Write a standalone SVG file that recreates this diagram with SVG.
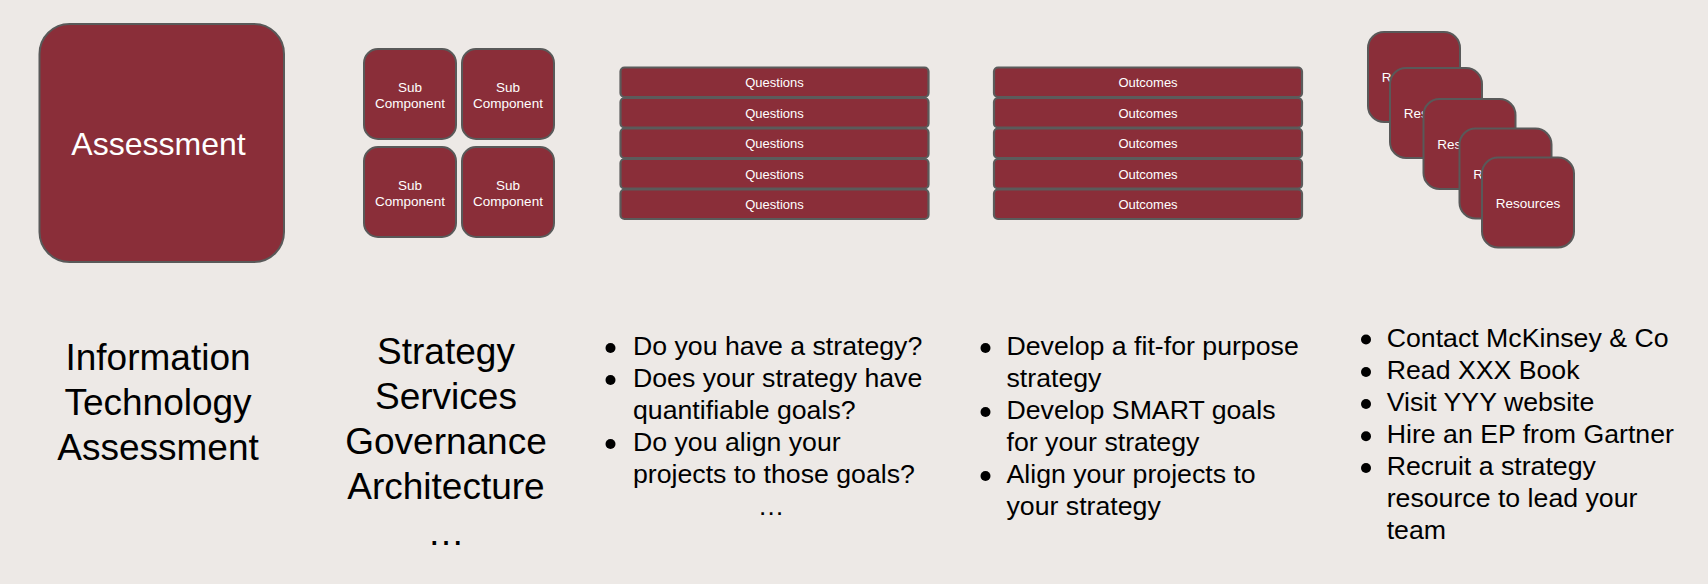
<svg xmlns="http://www.w3.org/2000/svg" width="1708" height="584" viewBox="0 0 1708 584">
<style>
.box{fill:#8a2e39;stroke:#595959;stroke-width:2}
.bar{fill:#8a2e39;stroke:#5b5b5b;stroke-width:2.2}
.wt{fill:#ffffff;font-family:"Liberation Sans",Arial,sans-serif;text-anchor:middle}
.bt{fill:#000000;font-family:"Liberation Sans",Arial,sans-serif}
.big{font-size:37px;text-anchor:middle}
.li{font-size:26.7px}
.dot{fill:#000000}
</style>
<rect x="0" y="0" width="1708" height="584" fill="#ede9e6"/>

<g id="assessment">
<rect class="box" x="39.5" y="24" width="244.5" height="238" rx="30" ry="30"/>
<text class="wt" x="158.5" y="155" font-size="32">Assessment</text>
</g>

<g id="sub-components">
<g id="sub1"><rect class="box" x="364" y="49" width="92" height="90" rx="14"/><text class="wt" font-size="13.5"><tspan x="410" y="92">Sub</tspan><tspan x="410" y="108">Component</tspan></text></g>
<g id="sub2"><rect class="box" x="462" y="49" width="92" height="90" rx="14"/><text class="wt" font-size="13.5"><tspan x="508" y="92">Sub</tspan><tspan x="508" y="108">Component</tspan></text></g>
<g id="sub3"><rect class="box" x="364" y="147" width="92" height="90" rx="14"/><text class="wt" font-size="13.5"><tspan x="410" y="190">Sub</tspan><tspan x="410" y="206">Component</tspan></text></g>
<g id="sub4"><rect class="box" x="462" y="147" width="92" height="90" rx="14"/><text class="wt" font-size="13.5"><tspan x="508" y="190">Sub</tspan><tspan x="508" y="206">Component</tspan></text></g>
</g>

<g id="questions">
<g id="q1"><rect class="bar" x="620.5" y="67.5" width="308" height="29.5" rx="4"/><text class="wt" x="774.5" y="87" font-size="13">Questions</text></g>
<g id="q2"><rect class="bar" x="620.5" y="98" width="308" height="29.5" rx="4"/><text class="wt" x="774.5" y="117.5" font-size="13">Questions</text></g>
<g id="q3"><rect class="bar" x="620.5" y="128.5" width="308" height="29.5" rx="4"/><text class="wt" x="774.5" y="148" font-size="13">Questions</text></g>
<g id="q4"><rect class="bar" x="620.5" y="159" width="308" height="29.5" rx="4"/><text class="wt" x="774.5" y="178.5" font-size="13">Questions</text></g>
<g id="q5"><rect class="bar" x="620.5" y="189.5" width="308" height="29.5" rx="4"/><text class="wt" x="774.5" y="209" font-size="13">Questions</text></g>
</g>

<g id="outcomes">
<g id="o1"><rect class="bar" x="994" y="67.5" width="308" height="29.5" rx="4"/><text class="wt" x="1148" y="87" font-size="13">Outcomes</text></g>
<g id="o2"><rect class="bar" x="994" y="98" width="308" height="29.5" rx="4"/><text class="wt" x="1148" y="117.5" font-size="13">Outcomes</text></g>
<g id="o3"><rect class="bar" x="994" y="128.5" width="308" height="29.5" rx="4"/><text class="wt" x="1148" y="148" font-size="13">Outcomes</text></g>
<g id="o4"><rect class="bar" x="994" y="159" width="308" height="29.5" rx="4"/><text class="wt" x="1148" y="178.5" font-size="13">Outcomes</text></g>
<g id="o5"><rect class="bar" x="994" y="189.5" width="308" height="29.5" rx="4"/><text class="wt" x="1148" y="209" font-size="13">Outcomes</text></g>
</g>

<g id="resources">
<g id="r1"><rect class="box" x="1368" y="32" width="92" height="90" rx="16"/><text class="wt" x="1414" y="82" font-size="13.5">Resources</text></g>
<g id="r2"><rect class="box" x="1390" y="68" width="92" height="90" rx="16"/><text class="wt" x="1436" y="118" font-size="13.5">Resources</text></g>
<g id="r3"><rect class="box" x="1423.5" y="99" width="92" height="90" rx="16"/><text class="wt" x="1469.5" y="149" font-size="13.5">Resources</text></g>
<g id="r4"><rect class="box" x="1459.5" y="128.5" width="92" height="90" rx="16"/><text class="wt" x="1505.5" y="178.5" font-size="13.5">Resources</text></g>
<g id="r5"><rect class="box" x="1482" y="157.5" width="92" height="90" rx="16"/><text class="wt" x="1528" y="207.5" font-size="13.5">Resources</text></g>
</g>

<g id="connectors"></g>

<g id="label-it">
<text class="bt big"><tspan x="158" y="370">Information</tspan><tspan x="158" y="415">Technology</tspan><tspan x="158" y="459.5">Assessment</tspan></text>
</g>

<g id="label-areas">
<text class="bt big"><tspan x="446" y="364">Strategy</tspan><tspan x="446" y="409">Services</tspan><tspan x="446" y="454">Governance</tspan><tspan x="446" y="499">Architecture</tspan><tspan x="446" y="545">…</tspan></text>
</g>

<g id="list-questions">
<circle class="dot" cx="610.5" cy="348" r="5"/>
<circle class="dot" cx="610.5" cy="380" r="5"/>
<circle class="dot" cx="610.5" cy="444" r="5"/>
<text class="bt li"><tspan x="633" y="355">Do you have a strategy?</tspan><tspan x="633" y="387">Does your strategy have</tspan><tspan x="633" y="419">quantifiable goals?</tspan><tspan x="633" y="451">Do you align your</tspan><tspan x="633" y="483">projects to those goals?</tspan></text>
<text class="bt li" x="771" y="515" text-anchor="middle">…</text>
</g>

<g id="list-outcomes">
<circle class="dot" cx="985.5" cy="348" r="5"/>
<circle class="dot" cx="985.5" cy="412" r="5"/>
<circle class="dot" cx="985.5" cy="476" r="5"/>
<text class="bt li"><tspan x="1006.5" y="355">Develop a fit-for purpose</tspan><tspan x="1006.5" y="387">strategy</tspan><tspan x="1006.5" y="419">Develop SMART goals</tspan><tspan x="1006.5" y="451">for your strategy</tspan><tspan x="1006.5" y="483">Align your projects to</tspan><tspan x="1006.5" y="515">your strategy</tspan></text>
</g>

<g id="list-resources">
<circle class="dot" cx="1366" cy="339.5" r="5"/>
<circle class="dot" cx="1366" cy="372" r="5"/>
<circle class="dot" cx="1366" cy="404" r="5"/>
<circle class="dot" cx="1366" cy="436.3" r="5"/>
<circle class="dot" cx="1366" cy="468" r="5"/>
<text class="bt li"><tspan x="1386.7" y="346.7">Contact McKinsey &amp; Co</tspan><tspan x="1386.7" y="379">Read XXX Book</tspan><tspan x="1386.7" y="411">Visit YYY website</tspan><tspan x="1386.7" y="443.3">Hire an EP from Gartner</tspan><tspan x="1386.7" y="475">Recruit a strategy</tspan><tspan x="1386.7" y="507.3">resource to lead your</tspan><tspan x="1386.7" y="539.3">team</tspan></text>
</g>
</svg>
